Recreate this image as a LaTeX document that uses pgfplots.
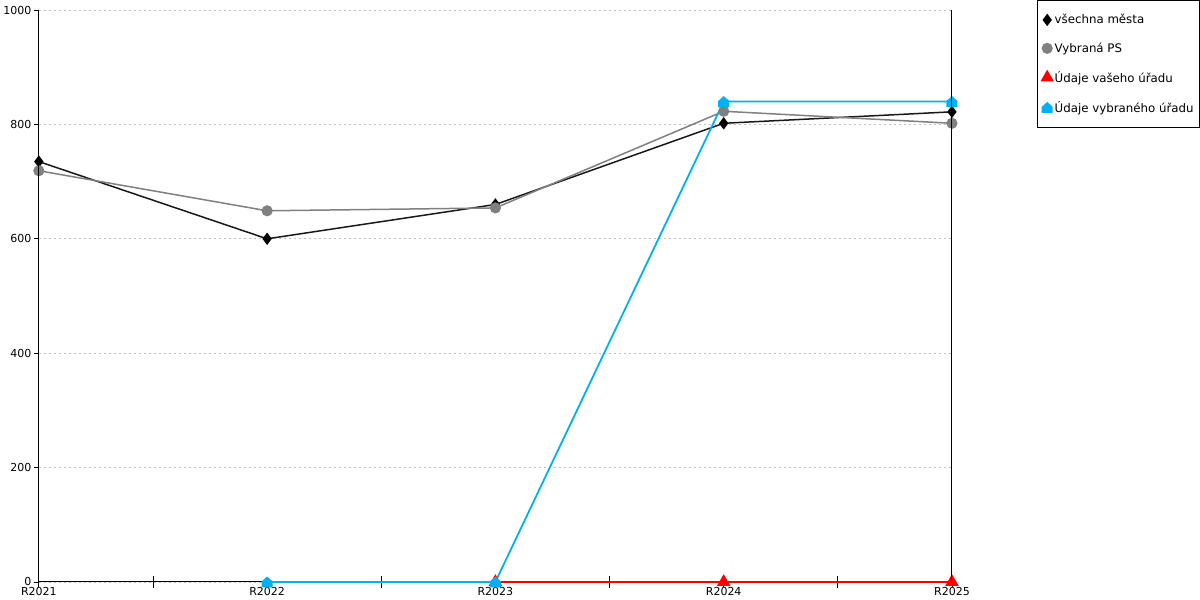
\documentclass[border=0pt]{standalone}
\usepackage{pgfplots}
\pgfplotsset{compat=1.18}
\usepackage{fontspec}
\setmainfont{DejaVu Sans}
\definecolor{cyanline}{HTML}{00B0F0}
\definecolor{grayline}{HTML}{808080}
\definecolor{gridgray}{HTML}{C0C0C0}
\pgfdeclareplotmark{house}{%
  \pgfpathmoveto{\pgfqpoint{-\pgfplotmarksize}{-\pgfplotmarksize}}%
  \pgfpathlineto{\pgfqpoint{\pgfplotmarksize}{-\pgfplotmarksize}}%
  \pgfpathlineto{\pgfqpoint{\pgfplotmarksize}{0.1\pgfplotmarksize}}%
  \pgfpathlineto{\pgfqpoint{0pt}{\pgfplotmarksize}}%
  \pgfpathlineto{\pgfqpoint{-\pgfplotmarksize}{0.1\pgfplotmarksize}}%
  \pgfpathclose
  \pgfusepathqfill}
\begin{document}
\begin{tikzpicture}
\begin{axis}[
    scale only axis,
    width=910bp, height=570bp,
    xmin=0, xmax=4, ymin=0, ymax=1000,
    clip=false,
    axis x line=bottom, axis y line=left,
    axis line style={line width=1pt, -},
    xtick={0,1,2,3,4},
    xticklabels={R2021,R2022,R2023,R2024,R2025},
    minor xtick={0.5,1.5,2.5,3.5},
    ytick={0,200,400,600,800,1000},
    tick align=outside,
    major tick length=5pt,
    minor tick length=12pt,
    minor tick style={yshift=6pt},
    tick style={black, line width=0.9pt},
    ymajorgrids,
    major grid style={gridgray, dash pattern=on 2pt off 3pt, line width=0.8pt},
    tick label style={font=\fontsize{11}{13}\selectfont},
    xticklabel style={yshift=3pt},
    yticklabel style={xshift=1pt},
    /pgf/number format/assume math mode=true,
    /pgf/number format/1000 sep={},
    legend style={at={(1,1)}, anchor=north west, xshift=85bp, yshift=10bp,
      draw=black, line width=0.9pt, font=\fontsize{11.8}{14}\selectfont,
      row sep=13.5pt, inner xsep=4pt, inner ysep=12pt},
    legend cell align=left,
    legend image code/.code={\draw[#1, draw=none] plot coordinates {(0.12cm,0cm)};},
    after end axis/.code={
      \draw[line width=1pt] (rel axis cs:1,0) -- (rel axis cs:1,1);
      \draw[line width=1pt] (rel axis cs:0,0) -- (rel axis cs:0,1);},
  ]
\addplot[black!90, line width=1.5pt, mark=diamond*, mark size=5pt,
  mark options={solid, black}] coordinates {(0,735) (1,600) (2,660) (3,802) (4,822)};
\addlegendentry{všechna města}
\addplot[grayline, line width=1.5pt, mark=*, mark size=4.8pt]
  coordinates {(0,719) (1,649) (2,654) (3,823) (4,802)};
\addlegendentry{Vybraná PS}
\addplot[red, line width=1.8pt, mark=triangle*, mark size=6pt]
  coordinates {(2,0) (3,0) (4,0)};
\addlegendentry{Údaje vašeho úřadu}
\addplot[cyanline, line width=1.8pt, mark=house, mark size=5.5pt]
  coordinates {(1,0) (2,0) (3,840) (4,840)};
\addlegendentry{Údaje vybraného úřadu}
\end{axis}
\end{tikzpicture}
\end{document}
